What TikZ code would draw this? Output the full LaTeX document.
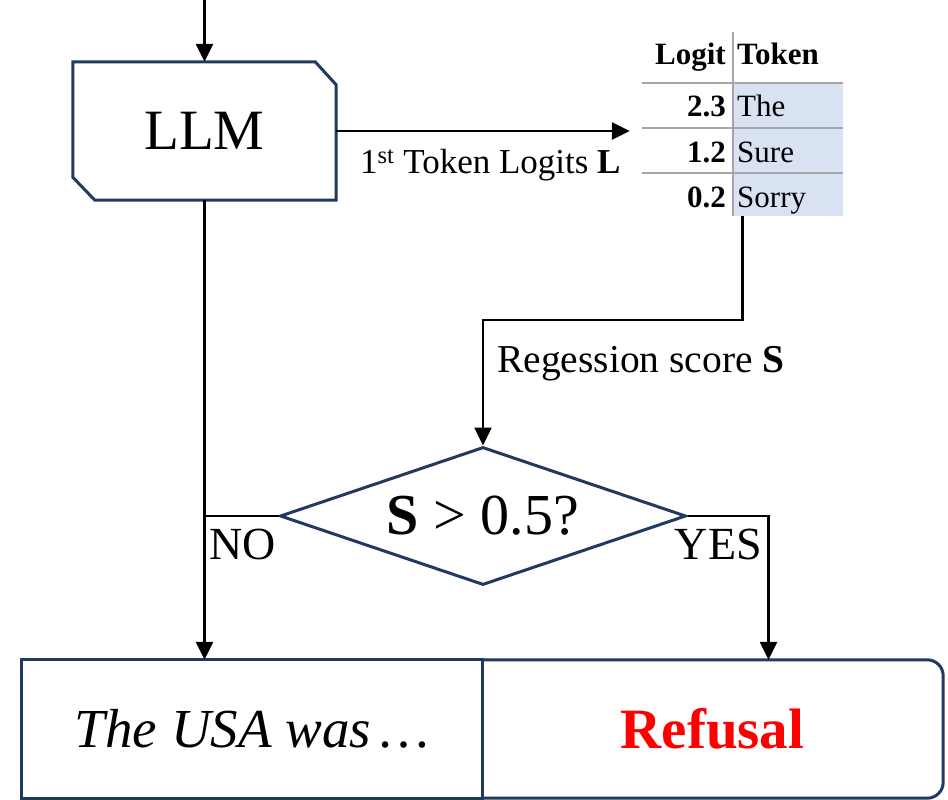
\documentclass[tikz,border=0pt]{standalone}
\usepackage{fontspec}
\setmainfont{Liberation Serif}
\usetikzlibrary{arrows.meta,shapes.geometric,calc}
\definecolor{navy}{HTML}{203A60}
\definecolor{tabshade}{HTML}{D9E2F3}
\definecolor{rulegray}{HTML}{A6A6A6}
\definecolor{refred}{HTML}{FF0000}
\tikzset{
  conn/.style={line width=2.5pt, draw=black},
  arr/.style={conn, -{Triangle[length=18pt,width=17pt]}},
  boxline/.style={line width=3pt, draw=navy},
  tabtxt/.style={font=\fontsize{31}{33}\selectfont, inner sep=0pt},
  tabbold/.style={font=\fontsize{31}{33}\selectfont\bfseries, inner sep=0pt},
}
\begin{document}
\begin{tikzpicture}[x=1pt,y=-1pt]
\useasboundingbox (0,0) rectangle (948,800);
% LLM box
\node[minimum width=263pt, minimum height=138pt, inner sep=0pt, font=\fontsize{57}{60}\selectfont] (llm) at (204.5,131) {LLM};
\draw[boxline, line join=miter] (llm.north west) -- ([xshift=-21pt]llm.north east) -- ([yshift=-23pt]llm.north east) -- (llm.south east) -- ([xshift=22pt]llm.south west) -- ([yshift=23pt]llm.south west) -- cycle;
\coordinate (start) at (204.5,0);
\draw[arr] (start) -- (llm.north);
% table
\node[minimum width=201pt, minimum height=184pt, inner sep=0pt] (tbl) at (742.5,124) {};
\fill[tabshade] (733,83) rectangle (843,216);
\draw[rulegray, line width=1.3pt] (642,83) -- (843,83) (642,128) -- (843,128) (642,173) -- (843,173) (733,32) -- (733,216);
\node[tabbold, anchor=base east] (h1) at (726,65) {Logit};
\node[tabbold, anchor=base west] (h2) at (737,65) {Token};
\node[tabbold, anchor=base east] (v1) at (726,117) {2.3};
\node[tabtxt, anchor=base west] (t1) at (737,117) {The};
\node[tabbold, anchor=base east] (v2) at (726,162) {1.2};
\node[tabtxt, anchor=base west] (t2) at (737,162) {Sure};
\node[tabbold, anchor=base east] (v3) at (726,207) {0.2};
\node[tabtxt, anchor=base west] (t3) at (737,207) {Sorry};
% LLM -> table
\draw[arr, shorten >=12pt] (llm.east) -- (tbl.west |- llm.east);
\node[anchor=base west, inner sep=0pt, font=\fontsize{35}{37}\selectfont] (lbl1) at (360,173) {1\textsuperscript{st} Token Logits \textbf{L}};
% diamond
\node[diamond, boxline, aspect=2.94, minimum width=406pt, minimum height=138pt, inner sep=0pt, font=\fontsize{58}{62}\selectfont] (dia) at (483,516) {\textbf{S} > 0.5?};
\draw[arr] (tbl.south) -- ++(0,104) -| (dia.north);
\node[anchor=base west, inner sep=0pt, font=\fontsize{39.5}{42}\selectfont] (lbl2) at (497,372) {Regession score \textbf{S}};
% bottom boxes
\node[minimum width=460pt, minimum height=138pt, inner sep=0pt, font=\fontsize{55}{58}\selectfont\itshape] (out1) at (252,729) {The USA was\,…};
\node[minimum width=461pt, minimum height=138pt, inner sep=0pt, font=\fontsize{57}{60}\selectfont\bfseries, text=refred] (out2) at (712.5,729) {Refusal};
\draw[boxline] (out1.south west) rectangle (out1.north east);
\draw[boxline, rounded corners=16pt] (out2.north west) -- (out2.north east) -- (out2.south east) -- (out2.south west);
% NO / YES
\draw[arr] (llm.south) -- (llm.south |- out1.north);
\draw[conn] (dia.west) -- (dia.west -| llm.south);
\draw[arr] (dia.east) -| ([xshift=56pt]out2.north);
\node[anchor=base west, inner sep=0pt, font=\fontsize{46}{48}\selectfont] (no) at (209,559) {NO};
\node[anchor=base east, inner sep=0pt, font=\fontsize{46}{48}\selectfont] (yes) at (762,559) {YES};
\end{tikzpicture}
\end{document}
